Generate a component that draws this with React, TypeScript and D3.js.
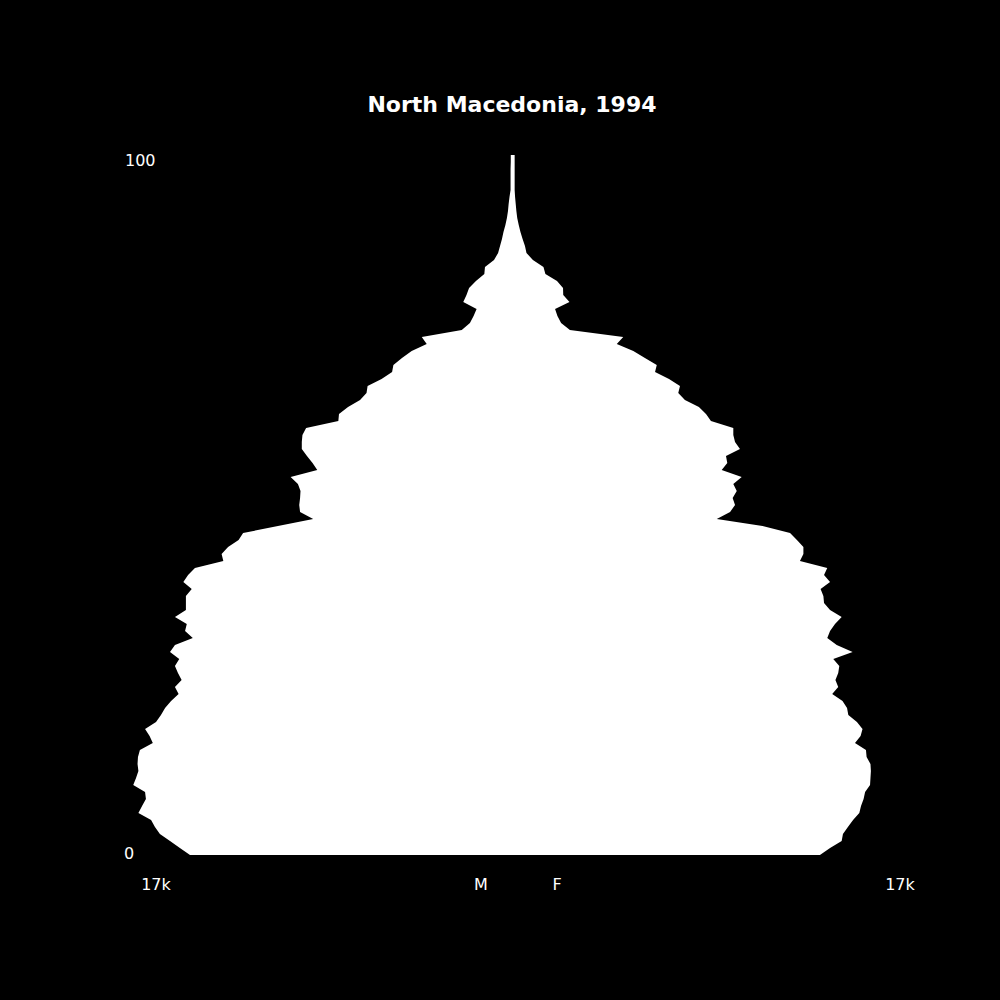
import React from 'react';
import * as d3 from 'd3';

// population by single year of age (0..100), thousands
const ages = d3.range(0, 101);

const male = [
  15.0, 15.47, 15.93, 16.4, 16.63, 16.81, 17.4, 17.23, 17.05, 17.09,
  17.64, 17.51, 17.4, 17.44, 17.42, 17.33, 16.73, 16.88, 17.09, 16.58,
  16.35, 16.16, 15.88, 15.53, 15.7, 15.39, 15.56, 15.7, 15.5, 15.93,
  15.7, 14.87, 15.23, 15.15, 15.7, 15.19, 15.19, 15.19, 14.92, 15.31,
  15.09, 14.77, 13.45, 13.53, 13.23, 12.74, 12.53, 10.91, 9.27, 9.88,
  9.92, 9.88, 9.86, 9.98, 10.32, 9.08, 9.3, 9.56, 9.8, 9.8,
  9.77, 9.6, 8.1, 8.07, 7.65, 7.09, 6.79, 6.74, 6.09, 5.6,
  5.54, 5.14, 4.69, 3.99, 4.22, 2.36, 1.98, 1.81, 1.67, 2.29,
  2.14, 2.02, 1.7, 1.31, 1.28, 0.86, 0.67, 0.58, 0.49, 0.42,
  0.33, 0.26, 0.21, 0.18, 0.14, 0.09, 0.09, 0.09, 0.09, 0.08,
  0.08,
];

const female = [
  14.3, 14.77, 15.31, 15.37, 15.6, 15.84, 16.13, 16.21, 16.33, 16.4,
  16.63, 16.65, 16.67, 16.65, 16.47, 16.44, 15.93, 16.19, 16.28, 16.02,
  15.62, 15.56, 15.35, 14.87, 15.15, 15.02, 15.15, 15.2, 14.92, 15.82,
  15.08, 14.64, 14.77, 15.0, 15.31, 14.77, 14.49, 14.46, 14.33, 14.77,
  14.49, 14.64, 13.37, 13.53, 13.53, 13.23, 12.91, 11.63, 9.5, 10.12,
  10.35, 10.24, 10.43, 10.27, 10.66, 9.73, 9.99, 9.93, 10.58, 10.35,
  10.27, 10.27, 9.23, 9.0, 8.67, 8.02, 7.71, 7.79, 7.28, 6.63,
  6.71, 6.16, 5.62, 4.85, 5.15, 2.67, 2.26, 2.09, 1.98, 2.65,
  2.36, 2.35, 2.07, 1.53, 1.44, 0.95, 0.65, 0.58, 0.47, 0.37,
  0.29, 0.22, 0.18, 0.15, 0.12, 0.1, 0.1, 0.1, 0.1, 0.1,
  0.1,
];

const title = 'North Macedonia, 1994';
const scaleLabel = '17k';

const App: React.FC = () => {
  const svgRef = React.useRef<SVGSVGElement>(null);

  React.useEffect(() => {
    if (!svgRef.current) return;
    const width = 1000;
    const height = 1000;
    const center = 512.5;

    const svg = d3.select(svgRef.current);
    svg.selectAll('*').remove();

    svg.append('rect')
      .attr('width', width)
      .attr('height', height)
      .attr('fill', '#000');

    const y = d3.scaleLinear().domain([0, 100]).range([855, 155]);
    const xM = d3.scaleLinear().domain([0, 17]).range([center, center - 365.5]);
    const xF = d3.scaleLinear().domain([0, 17]).range([center, center + 365.5]);

    // one closed outline: male edge bottom->top, female edge top->bottom
    const pts: [number, number][] = [
      ...ages.map(a => [xM(male[a]), y(a)] as [number, number]),
      ...ages.slice().reverse().map(a => [xF(female[a]), y(a)] as [number, number]),
    ];

    svg.append('path')
      .attr('d', d3.line().curve(d3.curveLinearClosed)(pts))
      .attr('fill', '#fff');

    const font = "'DejaVu Sans', sans-serif";

    svg.append('text')
      .attr('x', 512)
      .attr('y', 112)
      .attr('text-anchor', 'middle')
      .style('font-family', font)
      .style('font-size', '22px')
      .style('font-weight', 'bold')
      .style('fill', '#fff')
      .text(title);

    // age labels
    svg.append('text')
      .attr('x', 125)
      .attr('y', 166)
      .style('font-family', font)
      .style('font-size', '16px')
      .style('fill', '#fff')
      .text('100');

    svg.append('text')
      .attr('x', 124)
      .attr('y', 859)
      .style('font-family', font)
      .style('font-size', '16px')
      .style('fill', '#fff')
      .text('0');

    // bottom labels
    const bottom = [
      { x: 156, t: scaleLabel },
      { x: 481, t: 'M' },
      { x: 557, t: 'F' },
      { x: 900, t: scaleLabel },
    ];
    svg.selectAll('text.bottom')
      .data(bottom)
      .enter()
      .append('text')
      .attr('class', 'bottom')
      .attr('x', d => d.x)
      .attr('y', 890)
      .attr('text-anchor', 'middle')
      .style('font-family', font)
      .style('font-size', '16px')
      .style('fill', '#fff')
      .text(d => d.t);
  }, []);

  return (
    <div>
      <style>{`body{margin:0;background:#000}`}</style>
      <svg ref={svgRef} width="1000" height="1000" viewBox="0 0 1000 1000" style={{ display: 'block' }}></svg>
    </div>
  );
};

export default App;
